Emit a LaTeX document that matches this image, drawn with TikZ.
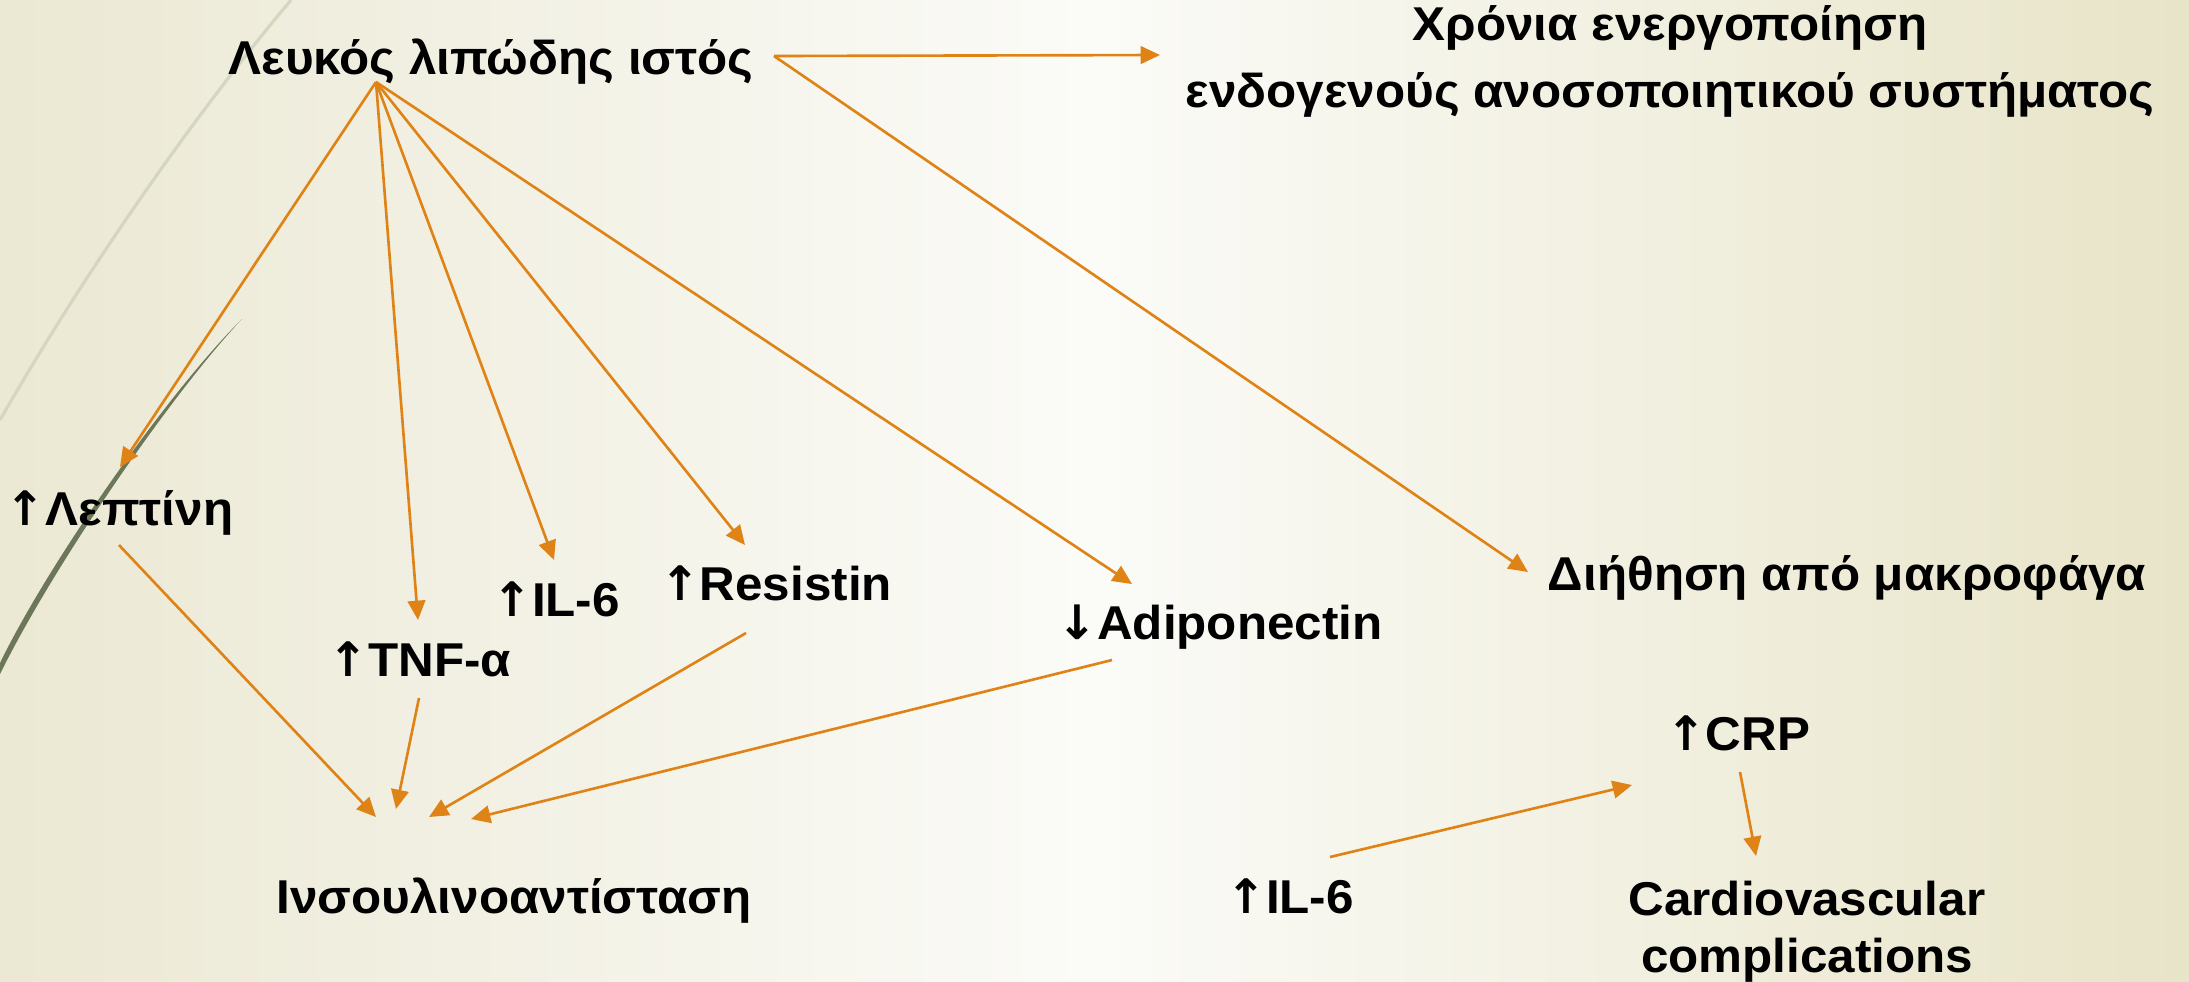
\documentclass[tikz,border=0pt]{standalone}
\usepackage{fontspec}
\setmainfont{Liberation Sans}[FakeStretch=1.04]
\newfontfamily\arrfont{DejaVu Sans}
\usetikzlibrary{arrows.meta,calc}
\definecolor{arrorange}{HTML}{DF8317}
\definecolor{bgleft}{HTML}{EBE8D3}
\definecolor{bgmid}{HTML}{FBFBF8}
\definecolor{bgright}{HTML}{E8E4C8}
\definecolor{wisplight}{HTML}{D4D6C1}
\definecolor{wispdark}{HTML}{6B7758}
\newcommand{\upar}{{\arrfont\bfseries ↑}}
\newcommand{\dnar}{{\arrfont\bfseries ↓}}
\begin{document}
\begin{tikzpicture}[x=0.01cm,y=-0.01cm,
  lbl/.style={font=\bfseries\fontsize{13.5pt}{19pt}\selectfont, inner sep=0pt, anchor=base, text=black},
  conn/.style={draw=arrorange, line width=0.75pt, -{Triangle[length=5.5pt,width=5pt]}}]
\useasboundingbox (0,0) rectangle (2189,981);
\shade[left color=bgleft, right color=bgright, middle color=bgmid] (0,0) rectangle (2189,981);
\begin{scope}
\clip (0,0) rectangle (2189,981);
\draw[wisplight, line width=0.9pt] (291,0) .. controls (190,120) and (80,280) .. (0,420);
\fill[wispdark] (242,319) .. controls (170,390) and (50,560) .. (0,663) -- (0,674) .. controls (55,563) and (173,392) .. (242,319) -- cycle;
\end{scope}
\node[lbl] (wat) at (491,74) {Λευκός λιπώδης ιστός};
\node[lbl, align=center] (chr) at (1670,107) {Χρόνια ενεργοποίηση\\ενδογενούς ανοσοποιητικού συστήματος};
\node[lbl] (dih) at (1847,590) {Διήθηση από μακροφάγα};
\node[lbl] (lep) at (119.5,525) {\upar Λεπτίνη};
\node[lbl] (tnf) at (420,676) {\upar TNF-α};
\node[lbl] (il6a) at (556,616) {\upar IL-6};
\node[lbl] (res) at (776,600) {\upar Resistin};
\node[lbl] (adi) at (1220,639) {\dnar Adiponectin};
\node[lbl] (ins) at (514,913) {Ινσουλινοαντίσταση};
\node[lbl] (il6b) at (1290,913) {\upar IL-6};
\node[lbl] (crp) at (1738,750) {\upar CRP};
\node[lbl, align=center, font=\bfseries\fontsize{13.5pt}{16.2pt}\selectfont] (cvd) at (1807,972) {Cardiovascular\\complications};
\coordinate (src) at ([shift={(-115,8)}]wat.base);
\coordinate (src2) at ([shift={(283,-18)}]wat.base);
\draw[conn] (src2) -- ([shift={(-510,-52)}]chr.base);
\draw[conn] (src2) -- ([shift={(-319,-18)}]dih.base);
\draw[conn] (src) -- ([shift={(0.5,-58)}]lep.base);
\draw[conn] (src) -- ([shift={(-2,-56)}]tnf.base);
\draw[conn] (src) -- ([shift={(-2,-56)}]il6a.base);
\draw[conn] (src) -- ([shift={(-31,-55)}]res.base);
\draw[conn] (src) -- ([shift={(-88,-55)}]adi.base);
\draw[conn] ([shift={(-0.5,20)}]lep.base) -- ([shift={(-138,-96)}]ins.base);
\draw[conn] ([shift={(-1,22)}]tnf.base) -- ([shift={(-118,-104)}]ins.base);
\draw[conn] ([shift={(-30,33)}]res.base) -- ([shift={(-85,-96)}]ins.base);
\draw[conn] ([shift={(-108,21)}]adi.base) -- ([shift={(-43,-94)}]ins.base);
\draw[conn] ([shift={(40,-56)}]il6b.base) -- ([shift={(-106,35)}]crp.base);
\draw[conn] ([shift={(2,22)}]crp.base) -- ([shift={(-51,-116)}]cvd.base);
\end{tikzpicture}
\end{document}
